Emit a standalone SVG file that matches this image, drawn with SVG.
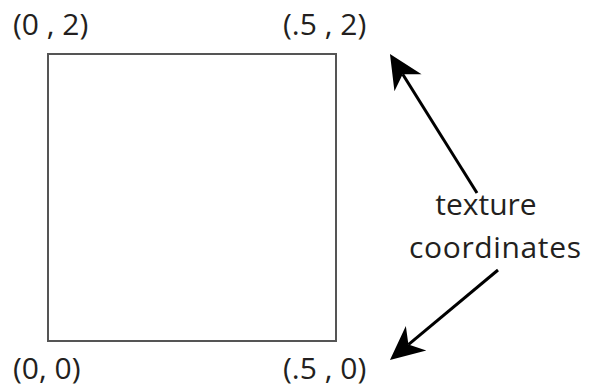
<svg xmlns="http://www.w3.org/2000/svg" width="592" height="388" viewBox="0 0 592 388">
<style>
.t{font-family:"Open Sans","Noto Sans",sans-serif;font-size:30px;fill:#231f20}
.a{stroke:#000;stroke-width:3;fill:none}
</style>
<defs>
<marker id="ah" markerUnits="userSpaceOnUse" viewBox="-1 -17 36 34" markerWidth="36" markerHeight="34" refX="10" refY="0" orient="auto">
<path d="M0,-16 L34,0 L0,16 L10,0 Z" fill="#000"/>
</marker>
</defs>
<rect width="592" height="388" fill="#fff"/>
<g id="square"><rect x="48" y="54" width="288" height="287" fill="none" stroke="#555" stroke-width="2"/></g>
<g id="label-02"><text class="t" x="13" y="35">(0 , 2)</text></g>
<g id="label-52"><text class="t" x="283" y="35">(.5 , 2)</text></g>
<g id="label-00"><text class="t" x="13" y="379">(0, 0)</text></g>
<g id="label-50"><text class="t" x="283" y="379">(.5 , 0)</text></g>
<g id="label-tex"><text class="t" x="486" y="215" text-anchor="middle">texture</text><text class="t" x="495" y="258" text-anchor="middle" textLength="172" lengthAdjust="spacing">coordinates</text></g>
<g id="connectors">
<line class="a" x1="477" y1="193" x2="402.7" y2="74.3" marker-end="url(#ah)"/>
<line class="a" x1="498" y1="270" x2="408.4" y2="344.6" marker-end="url(#ah)"/>
</g>
</svg>
